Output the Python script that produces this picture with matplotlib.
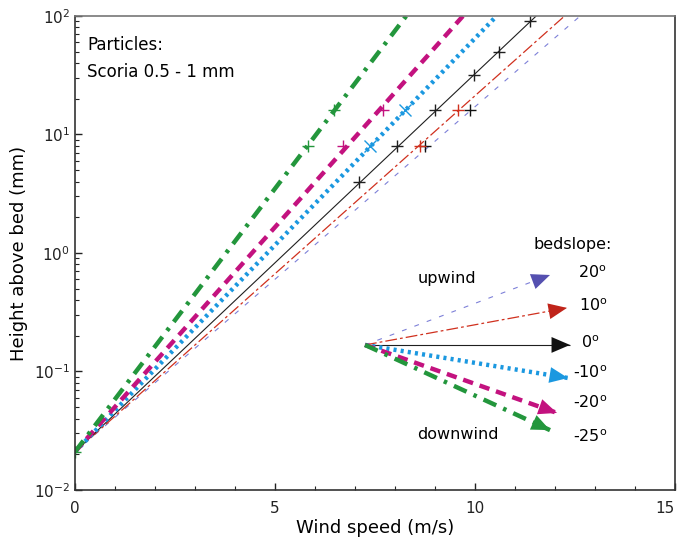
import matplotlib.pyplot as plt
from matplotlib.ticker import MultipleLocator, LogLocator

plt.rcParams['font.family'] = ['DejaVu Sans']
plt.rcParams['lines.scale_dashes'] = False

# bed slope of each wind profile (degrees), upwind positive
bed_slopes = ["20", "10", "0", "-10", "-20", "-25"]

# every profile starts at the same roughness height at u = 0
z_start = 0.021
z_end = 100.0
# wind speed at which each profile reaches 100 mm
u_end = [12.63, 12.24, 11.53, 10.54, 9.70, 8.28]

# measured points (+ markers)
u_pts_20 = [8.75, 9.875]
z_pts_20 = [8, 16]
u_pts_10 = [8.625, 9.575]
z_pts_10 = [8, 16]
u_pts_0 = [7.1, 8.05, 9.0, 9.975, 10.6, 11.375]
z_pts_0 = [4, 8, 16, 32, 50, 90]
u_pts_m10 = [7.375, 8.25]
z_pts_m10 = [8, 16]
u_pts_m20 = [6.7, 7.7]
z_pts_m20 = [8, 16]
u_pts_m25 = [0.0, 5.83, 6.475]
z_pts_m25 = [0.021, 8, 16]

# key arrows: common origin and tips (data coords)
arrow_origin = (7.25, 0.1675)
arrow_tip_u = [11.875, 12.3, 12.375, 12.325, 12.05, 11.875]
arrow_tip_z = [0.652, 0.344, 0.1675, 0.0881, 0.0447, 0.032]

colors = ['#7d80d8', '#d0301e', '#1f1f1f', '#1b98e0', '#c3127f', '#23963c']
head_colors = ['#5550b0', '#c0241a', '#111111', '#1b98e0', '#c3127f', '#23963c']
widths = [0.8, 0.9, 0.8, 3.2, 3.2, 3.2]
dashes = [(3.5, 6.0), (8.5, 2.2, 2.0, 2.2), None, (2.2, 3.0),
          (7.5, 5.0), (10.0, 5.5, 2.5, 5.5)]
markers = ['+', '+', '+', 'x', '+', '+']
u_pts = [u_pts_20, u_pts_10, u_pts_0, u_pts_m10, u_pts_m20, u_pts_m25]
z_pts = [z_pts_20, z_pts_10, z_pts_0, z_pts_m10, z_pts_m20, z_pts_m25]

fig = plt.figure(figsize=(6.83, 5.49), dpi=100)
ax = fig.add_axes([0.1098, 0.1075, 0.8785, 0.8634])
ax.set_yscale('log')

for i in range(len(bed_slopes)):
    kw = dict(color=colors[i], lw=widths[i], solid_capstyle='butt',
              dash_capstyle='butt')
    line, = ax.plot([0, u_end[i]], [z_start, z_end], **kw)
    if dashes[i] is not None:
        line.set_dashes(dashes[i])
    ax.plot(u_pts[i], z_pts[i], ls='none', marker=markers[i],
            color=colors[i] if i != 0 else '#111111', ms=9, mew=1)

    # key arrows
    shaft, = ax.plot([arrow_origin[0], arrow_tip_u[i]],
                     [arrow_origin[1], arrow_tip_z[i]], **kw)
    if dashes[i] is not None:
        shaft.set_dashes(dashes[i])
    ax.annotate('', xy=(arrow_tip_u[i], arrow_tip_z[i]), xytext=arrow_origin,
                arrowprops=dict(arrowstyle='-|>,head_length=0.7,head_width=0.3',
                                mutation_scale=19, color=head_colors[i], lw=0,
                                shrinkA=0, shrinkB=0))

# key labels
label_x = [0.838, 0.84, 0.843, 0.83, 0.83, 0.83]
label_y = [0.458, 0.388, 0.310, 0.247, 0.184, 0.112]
for s, lx, ly in zip(bed_slopes, label_x, label_y):
    ax.text(lx, ly, s + r'$^\mathrm{o}$', transform=ax.transAxes,
            fontsize=11.5, va='center', ha='left')
ax.text(0.83, 0.517, 'bedslope:', transform=ax.transAxes, fontsize=11.5,
        ha='center', va='center')
ax.text(0.62, 0.447, 'upwind', transform=ax.transAxes, fontsize=11.5,
        ha='center', va='center')
ax.text(0.638, 0.116, 'downwind', transform=ax.transAxes, fontsize=11.5,
        ha='center', va='center')

ax.text(0.02, 0.939, 'Particles:', transform=ax.transAxes, fontsize=12,
        ha='left', va='center')
ax.text(0.02, 0.882, 'Scoria 0.5 - 1 mm', transform=ax.transAxes, fontsize=12,
        ha='left', va='center')

ax.set_xlim(0, 15)
ax.set_ylim(0.01, 100)
ax.set_xticks([0, 5, 10, 15])
ax.xaxis.set_minor_locator(MultipleLocator(1))
ax.yaxis.set_major_locator(LogLocator(base=10, numticks=10))
ax.yaxis.set_minor_locator(LogLocator(base=10, subs=range(2, 10), numticks=20))
ax.tick_params(which='both', direction='in', top=False, right=False,
               labelsize=11, colors='#222222')
ax.tick_params(which='major', length=5, width=1)
ax.tick_params(which='minor', length=3, width=0.8)
ax.tick_params(axis='x', pad=8)
for sp in ax.spines.values():
    sp.set_linewidth(1.2)
    sp.set_color('#333333')
ax.spines['top'].set_color('#777777')

ax.set_xlabel('Wind speed (m/s)', fontsize=13, labelpad=2)
ax.set_ylabel('Height above bed (mm)', fontsize=13, labelpad=4)

fig.canvas.draw()
ax.get_xticklabels()[-1].set_horizontalalignment('right')

fig.savefig('out.png', dpi=100)
